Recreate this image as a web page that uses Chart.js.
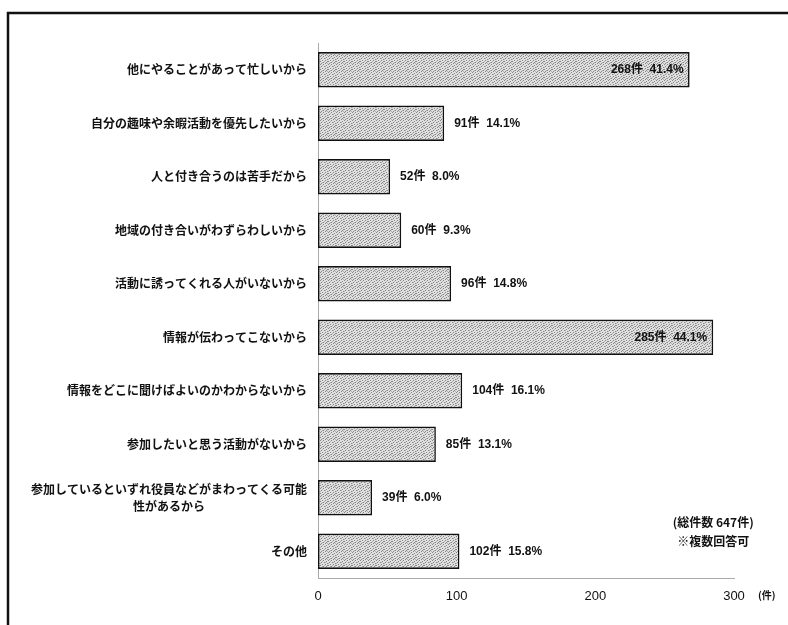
<!DOCTYPE html>
<html>
<head>
<meta charset="utf-8">
<script src="https://cdn.jsdelivr.net/npm/chart.js@4/dist/chart.umd.min.js"></script>
<style>
  html, body { margin: 0; padding: 0; background: #fff; }
  #wrap { width: 788px; height: 625px; }
</style>
</head>
<body>
<div id="wrap"><canvas id="reasonChart" width="788" height="625"></canvas></div>
<script>
// categories (reasons), counts and shares
const reasons = [
    '他にやることがあって忙しいから',
    '自分の趣味や余暇活動を優先したいから',
    '人と付き合うのは苦手だから',
    '地域の付き合いがわずらわしいから',
    '活動に誘ってくれる人がいないから',
    '情報が伝わってこないから',
    '情報をどこに聞けばよいのかわからないから',
    '参加したいと思う活動がないから',
    ['参加しているといずれ役員などがまわってくる可能', '性があるから'],
    'その他'
];
const counts = [268, 91, 52, 60, 96, 285, 104, 85, 39, 102];
const shares = [41.4, 14.1, 8.0, 9.3, 14.8, 44.1, 16.1, 13.1, 6.0, 15.8];
const xTicks = [0, 100, 200, 300];
const totalNote = ['(総件数 647件)', '※複数回答可'];
const unitLabel = '(件)';

const JP_FONT = '"Noto Sans CJK JP", "Liberation Sans", sans-serif';
const NUM_FONT = '"Liberation Sans", "Noto Sans CJK JP", sans-serif';

// light grey speckled fill, like the scanned bars
function makeBarPattern() {
    const c = document.createElement('canvas');
    c.width = 8; c.height = 8;
    const g = c.getContext('2d');
    g.fillStyle = '#e0e0e0';
    g.fillRect(0, 0, 8, 8);
    g.fillStyle = '#858585';
    const dots = [[0, 0], [3, 0], [6, 1], [1, 2], [4, 2], [7, 3], [2, 4], [5, 4],
                  [0, 5], [3, 6], [6, 6], [1, 7], [5, 7], [7, 5]];
    dots.forEach(([x, y]) => g.fillRect(x, y, 1, 1));
    g.fillStyle = '#b0b0b0';
    [[2, 1], [5, 2], [0, 3], [4, 5], [7, 7], [2, 6]].forEach(([x, y]) => g.fillRect(x, y, 1, 1));
    return g.createPattern(c, 'repeat');
}

// frame + category labels + value labels + notes
const decorations = {
    id: 'decorations',
    beforeDraw(chart) {
        const ctx = chart.ctx;
        ctx.save();
        ctx.fillStyle = '#fff';
        ctx.fillRect(0, 0, chart.width, chart.height);
        ctx.strokeStyle = '#111';
        ctx.lineWidth = 2.5;
        ctx.beginPath();
        ctx.moveTo(8, chart.height);
        ctx.lineTo(8, 13);
        ctx.lineTo(chart.width, 13);
        ctx.stroke();
        ctx.restore();
    },
    afterDraw(chart) {
        const ctx = chart.ctx;
        const yScale = chart.scales.y;
        const xScale = chart.scales.x;
        const area = chart.chartArea;
        ctx.save();
        ctx.fillStyle = '#111';

        // category labels, right aligned, wrapped ones centred on each other
        ctx.font = 'bold 12px ' + JP_FONT;
        ctx.textBaseline = 'middle';
        const right = area.left - 11;
        reasons.forEach((label, i) => {
            const y = yScale.getPixelForTick(i);
            if (Array.isArray(label)) {
                const w = Math.max(...label.map(l => ctx.measureText(l).width));
                const cx = right - w / 2;
                ctx.textAlign = 'center';
                label.forEach((l, k) => {
                    ctx.fillText(l, cx, y + (k - (label.length - 1) / 2) * 17);
                });
            } else {
                ctx.textAlign = 'right';
                ctx.fillText(label, right, y);
            }
        });

        // value labels
        ctx.font = 'bold 12px ' + NUM_FONT;
        const bars = chart.getDatasetMeta(0).data;
        bars.forEach((bar, i) => {
            const text = counts[i] + '件  ' + shares[i].toFixed(1) + '%';
            const w = ctx.measureText(text).width;
            if (bar.x + 10 + w > area.right) {
                ctx.textAlign = 'right';
                ctx.fillText(text, bar.x - 6, bar.y);
            } else {
                ctx.textAlign = 'left';
                ctx.fillText(text, bar.x + 10, bar.y);
            }
        });

        // notes
        ctx.font = 'bold 12px ' + JP_FONT;
        ctx.textAlign = 'center';
        const noteX = xScale.getPixelForValue(285);
        ctx.fillText(totalNote[0], noteX, yScale.getPixelForTick(9) - 29);
        ctx.fillText(totalNote[1], noteX, yScale.getPixelForTick(9) - 10);

        // unit
        ctx.font = 'bold 10px ' + JP_FONT;
        ctx.textAlign = 'left';
        ctx.fillText(unitLabel, xScale.getPixelForValue(300) + 24, area.bottom + 17);
        ctx.restore();
    }
};

new Chart(document.getElementById('reasonChart').getContext('2d'), {
    type: 'bar',
    data: {
        labels: reasons,
        datasets: [{
            data: counts,
            backgroundColor: makeBarPattern(),
            borderColor: '#111',
            borderWidth: 1.6,
            borderSkipped: false,
            categoryPercentage: 1,
            barPercentage: 0.66
        }]
    },
    options: {
        indexAxis: 'y',
        responsive: false,
        animation: false,
        events: [],
        layout: { padding: { top: 43, right: 54, left: 0, bottom: 0 } },
        plugins: { legend: { display: false }, tooltip: { enabled: false } },
        scales: {
            y: {
                grid: { display: false, drawTicks: false },
                border: { display: true, color: '#aaa', dash: [1, 2], width: 1 },
                ticks: { display: false },
                afterFit(scale) { scale.width = 318; }
            },
            x: {
                min: 0,
                max: 300,
                grid: { display: false, drawTicks: false },
                border: { display: true, color: '#aaa', dash: [1, 2], width: 1 },
                afterBuildTicks(scale) { scale.ticks = xTicks.map(v => ({ value: v })); },
                ticks: {
                    padding: 11,
                    color: '#111',
                    font: { family: NUM_FONT, size: 13 }
                },
                afterFit(scale) { scale.height = 47; }
            }
        }
    },
    plugins: [decorations]
});
</script>
</body>
</html>
